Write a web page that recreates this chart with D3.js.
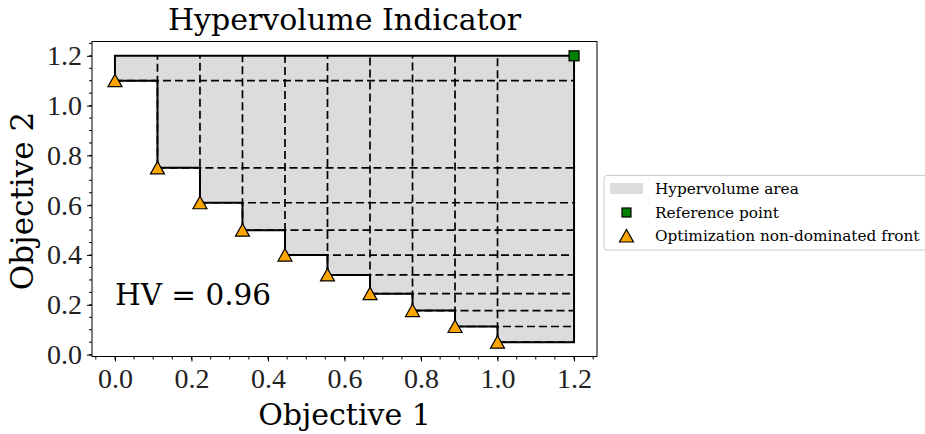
<!DOCTYPE html>
<html>
<head>
<meta charset="utf-8">
<script src="https://cdn.jsdelivr.net/npm/d3@7"></script>
<style>
  body { margin:0; background:#fff; }
  svg text { fill:#000; }
</style>
</head>
<body>
<div id="chart"></div>
<script>
// front points (objective 1, objective 2)
var obj1 = [0, 1/9, 2/9, 3/9, 4/9, 5/9, 6/9, 7/9, 8/9, 1.0];
var obj2 = [1.10, 0.75, 0.61, 0.50, 0.40, 0.32, 0.245, 0.177, 0.113, 0.05];
var refPoint = [1.2, 1.2];
var xTicks = [0.0, 0.2, 0.4, 0.6, 0.8, 1.0, 1.2];
var yTicks = [0.0, 0.2, 0.4, 0.6, 0.8, 1.0, 1.2];
var hvLabel = "HV = 0.96";
var legendLabels = ["Hypervolume area", "Reference point", "Optimization non-dominated front"];

var c_width = 925, c_height = 434;
var margin = {top:41.5, left:92};
var border = {width:505, height:315};

var svg = d3.select("#chart").append("svg")
  .attr("width", c_width)
  .attr("height", c_height);

var main_g = svg.append("g")
  .attr("transform", "translate(" + margin.left + "," + margin.top + ")");

var x_scale = d3.scaleLinear().domain([-0.06, 1.26]).range([0, border.width]);
var y_scale = d3.scaleLinear().domain([-0.0075, 1.2575]).range([border.height, 0]);

var points = obj1.map(function(x, i){ return {x:x, y:obj2[i]}; });

// staircase polygon of dominated area
var poly = [[0, refPoint[1]]];
points.forEach(function(p, i){
  poly.push([p.x, p.y]);
  var nx = i < points.length-1 ? points[i+1].x : refPoint[0];
  poly.push([nx, p.y]);
});
poly.push([refPoint[0], refPoint[1]]);

var line = d3.line()
  .x(function(d){ return x_scale(d[0]); })
  .y(function(d){ return y_scale(d[1]); });

main_g.append("path")
  .attr("d", line(poly) + "Z")
  .style("fill", "#dcdcdc")
  .style("stroke", "none");

// dashed rectangles from each point to the reference
var dash_g = main_g.append("g")
  .style("stroke", "#000")
  .style("stroke-width", 1.7)
  .style("stroke-dasharray", "8,4");
points.forEach(function(p){
  dash_g.append("line")
    .attr("x1", x_scale(p.x)).attr("y1", y_scale(p.y))
    .attr("x2", x_scale(p.x)).attr("y2", y_scale(refPoint[1]));
  dash_g.append("line")
    .attr("x1", x_scale(p.x)).attr("y1", y_scale(p.y))
    .attr("x2", x_scale(refPoint[0])).attr("y2", y_scale(p.y));
});

main_g.append("path")
  .attr("d", line(poly) + "Z")
  .style("fill", "none")
  .style("stroke", "#000")
  .style("stroke-width", 2);

// markers
main_g.selectAll(".front")
  .data(points).enter()
  .append("path")
  .attr("class", "front")
  .attr("d", "M0,-6.5L7,6L-7,6Z")
  .attr("transform", function(d){ return "translate(" + x_scale(d.x) + "," + y_scale(d.y) + ")"; })
  .style("fill", "#ffa500")
  .style("stroke", "#000")
  .style("stroke-width", 1.2);

main_g.append("rect")
  .attr("x", x_scale(refPoint[0]) - 5)
  .attr("y", y_scale(refPoint[1]) - 5)
  .attr("width", 10).attr("height", 10)
  .style("fill", "#008000")
  .style("stroke", "#000")
  .style("stroke-width", 1.2);

// frame
main_g.append("rect")
  .attr("width", border.width).attr("height", border.height)
  .style("fill", "none").style("stroke", "#000").style("stroke-width", 1);

// axes
var tickFont = "'Liberation Serif', serif";
var xAxis = main_g.append("g")
  .attr("transform", "translate(0," + border.height + ")")
  .call(d3.axisBottom(x_scale).tickValues(xTicks).tickFormat(d3.format(".1f")).tickSize(5).tickPadding(7));
var yAxis = main_g.append("g")
  .call(d3.axisLeft(y_scale).tickValues(yTicks).tickFormat(d3.format(".1f")).tickSize(5).tickPadding(5));
[xAxis, yAxis].forEach(function(a){
  a.select(".domain").remove();
  a.selectAll("text").style("font-family", tickFont).style("font-size", "28px").style("fill", "#222");
});

var minor = d3.range(-0.05, 1.2501, 0.05);
main_g.append("g").selectAll("line")
  .data(minor.filter(function(v){ return v > -0.06 && v < 1.26; })).enter()
  .append("line")
  .attr("x1", function(d){ return x_scale(d); })
  .attr("x2", function(d){ return x_scale(d); })
  .attr("y1", border.height).attr("y2", border.height + 3)
  .style("stroke", "#000");
main_g.append("g").selectAll("line")
  .data(minor.filter(function(v){ return v > -0.0075 && v < 1.2575; })).enter()
  .append("line")
  .attr("y1", function(d){ return y_scale(d); })
  .attr("y2", function(d){ return y_scale(d); })
  .attr("x1", 0).attr("x2", -3)
  .style("stroke", "#000");

// texts
var serif = "'DejaVu Serif', serif";
svg.append("text")
  .attr("x", margin.left + border.width/2).attr("y", 30)
  .attr("text-anchor", "middle")
  .style("font-family", serif).style("font-size", "30px")
  .text("Hypervolume Indicator");

svg.append("text")
  .attr("x", margin.left + border.width/2).attr("y", 425)
  .attr("text-anchor", "middle")
  .style("font-family", serif).style("font-size", "30px")
  .text("Objective 1");

svg.append("text")
  .attr("transform", "translate(33," + (margin.top + border.height/2 + 2) + ") rotate(-90)")
  .attr("text-anchor", "middle")
  .style("font-family", serif).style("font-size", "31px")
  .text("Objective 2");

main_g.append("text")
  .attr("x", x_scale(0)).attr("y", y_scale(0.2))
  .style("font-family", serif).style("font-size", "29.5px")
  .text(hvLabel);

// legend
var legend_g = svg.append("g").attr("transform", "translate(604,175.5)");
legend_g.append("rect")
  .attr("width", 330).attr("height", 74.5).attr("rx", 3)
  .style("fill", "#fff").style("stroke", "#ccc").style("stroke-width", 1);
var rowY = [13.5, 37, 60.5];
legend_g.append("rect")
  .attr("x", 6).attr("y", rowY[0] - 6).attr("width", 33).attr("height", 11)
  .style("fill", "#dcdcdc");
legend_g.append("rect")
  .attr("x", 22.5 - 4.5).attr("y", rowY[1] - 4.5).attr("width", 9).attr("height", 9)
  .style("fill", "#008000").style("stroke", "#000").style("stroke-width", 1.2);
legend_g.append("path")
  .attr("d", "M0,-6.5L7,6L-7,6Z")
  .attr("transform", "translate(22.5," + rowY[2] + ")")
  .style("fill", "#ffa500").style("stroke", "#000").style("stroke-width", 1.2);
legend_g.selectAll(".leg-text")
  .data(legendLabels).enter()
  .append("text")
  .attr("class", "leg-text")
  .attr("x", 51)
  .attr("y", function(d, i){ return rowY[i]; })
  .attr("dy", "0.35em")
  .style("font-family", serif).style("font-size", "15.3px")
  .text(function(d){ return d; });
</script>
</body>
</html>
